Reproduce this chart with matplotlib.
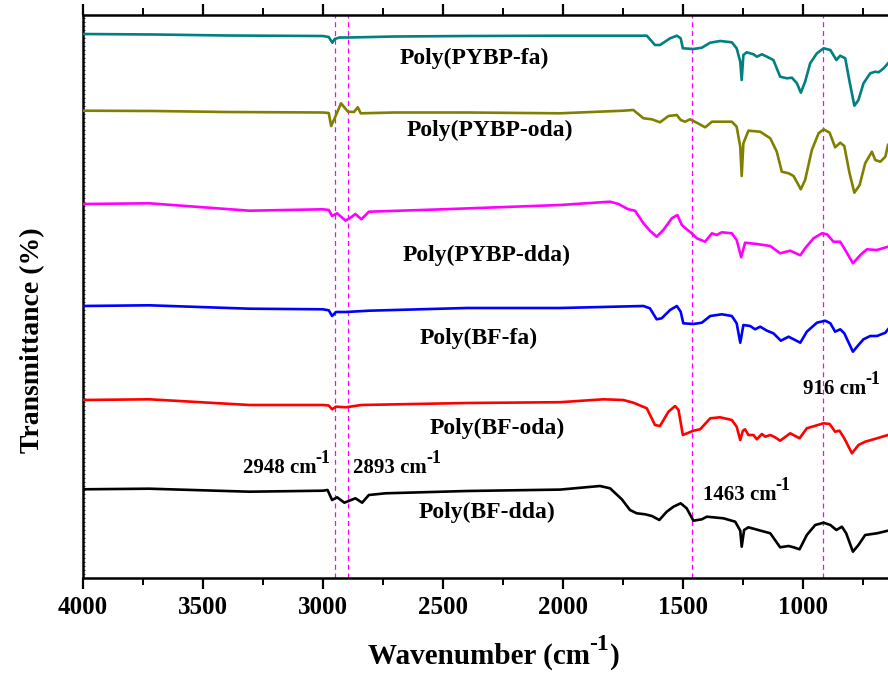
import matplotlib
matplotlib.use("Agg")
import matplotlib.pyplot as plt
from matplotlib.ticker import MultipleLocator

plt.rcParams['font.family'] = ['Liberation Serif', 'DejaVu Serif']
plt.rcParams['font.weight'] = 'bold'

# ---- data (wavenumber cm-1, offset transmittance a.u.) ----
wn_pybp_fa = [4000, 3700, 3400, 3000, 2975, 2960, 2950, 2930, 2893, 2700,
              2400, 2012, 1651, 1617, 1596, 1554, 1526, 1510, 1501, 1457,
              1422, 1387, 1346, 1297, 1277, 1262, 1256, 1249, 1235, 1207,
              1193, 1172, 1151, 1124, 1096, 1068, 1047, 1026, 1010, 992,
              971, 943, 915, 887, 862, 846, 825, 807, 787, 770,
              749, 721, 700, 686, 665, 647]
t_pybp_fa = [544, 543.5, 542.5, 542, 541, 535.3, 539, 540.5, 540.5, 541.5,
             542, 542.3, 542.3, 533, 533, 539.7, 542.3, 539.7, 529.7, 529,
             530.3, 535.3, 537, 535.7, 529.7, 516.3, 498, 523, 525.7, 523.7,
             521.3, 523.7, 521.3, 518, 501.3, 499.7, 500.3, 494.7, 485.3, 496.3,
             514.7, 524.7, 529.7, 528, 518, 522.3, 519.7, 496.3, 472.3, 478,
             494.7, 504.7, 506.3, 505.7, 509.7, 514.7]

wn_pybp_oda = [4000, 3700, 3400, 3000, 2975, 2965, 2950, 2924, 2895, 2870,
               2854, 2842, 2700, 2400, 2012, 1749, 1707, 1665, 1630, 1596,
               1561, 1526, 1510, 1492, 1471, 1443, 1408, 1380, 1332, 1297,
               1277, 1262, 1256, 1249, 1228, 1179, 1137, 1110, 1089, 1061,
               1040, 1010, 992, 964, 936, 915, 890, 867, 846, 829,
               807, 787, 765, 742, 714, 700, 679, 658, 647]
t_pybp_oda = [467.3, 467, 466, 465.5, 465, 452, 460, 474.7, 466.3, 466,
              470.7, 464.7, 465.5, 465.5, 464.7, 467.3, 468, 459.7, 458.7, 455.7,
              462, 463, 458, 456.3, 458.7, 455.3, 450.7, 456.3, 456.3, 456.3,
              451.3, 431.3, 402, 434.7, 447.3, 446.3, 439.7, 426.3, 406.3, 404.7,
              402, 388.7, 398, 428, 444.7, 448.7, 445.3, 430.7, 435.3, 432,
              404.7, 385.3, 393, 414.7, 426.3, 418, 416.3, 421.3, 433]

wn_pybp_dda = [4000, 3722, 3305, 3000, 2975, 2961, 2940, 2905, 2880, 2864,
               2839, 2808, 2500, 2012, 1804, 1769, 1728, 1700, 1665, 1638,
               1610, 1582, 1547, 1524, 1505, 1485, 1464, 1443, 1408, 1380,
               1360, 1339, 1297, 1277, 1258, 1242, 1193, 1137, 1096, 1054,
               1012, 992, 957, 922, 901, 874, 846, 825, 793, 762,
               735, 693, 647]
t_pybp_dda = [374, 374.7, 367.3, 368.7, 368, 362, 364.7, 357.3, 361, 364,
              358.7, 366.3, 368.7, 373, 376.3, 374, 368.7, 367.3, 354.7, 347.3,
              341.3, 348, 359.7, 363, 353, 348.7, 344.7, 339.7, 336.3, 344.7,
              343, 345.7, 344.7, 338, 320.7, 335.3, 334, 332, 324.7, 327.3,
              322.7, 329.7, 339.7, 344.7, 343.7, 336.3, 336.3, 328, 314.7, 323,
              328.7, 328, 331.3]

wn_bf_fa = [4000, 3722, 3305, 3000, 2975, 2961, 2945, 2903, 2808, 2400,
            2012, 1665, 1638, 1610, 1589, 1554, 1526, 1510, 1499, 1457,
            1422, 1387, 1339, 1297, 1277, 1262, 1249, 1221, 1200, 1179,
            1151, 1124, 1093, 1061, 1012, 985, 943, 908, 887, 867,
            846, 829, 793, 770, 749, 721, 693, 658, 647]
t_bf_fa = [272, 272.7, 269.3, 268.7, 267.7, 262, 266, 266, 267.3, 270,
           270, 272, 269.7, 258.7, 259.7, 268, 272, 266.3, 254.7, 254,
           255.3, 262, 263.7, 262, 254.7, 235.3, 253, 252, 248.7, 251.3,
           247.3, 244.7, 237.3, 241.3, 235.3, 246.3, 255.3, 257.3, 254.7, 246.3,
           248.7, 244.7, 226.3, 233, 238.7, 242, 242, 245.3, 248.7]

wn_bf_oda = [4000, 3722, 3305, 3000, 2975, 2961, 2945, 2903, 2840, 2400,
             2012, 1832, 1749, 1707, 1651, 1617, 1596, 1561, 1533, 1519,
             1501, 1457, 1429, 1387, 1346, 1297, 1277, 1262, 1251, 1242,
             1228, 1207, 1193, 1172, 1158, 1137, 1117, 1096, 1054, 1015,
             985, 915, 890, 867, 849, 829, 797, 770, 742, 707,
             647]
t_bf_oda = [178, 178.7, 173, 173, 172.5, 168.7, 171.3, 170.7, 173, 175,
            175.8, 178.7, 178, 175.3, 169.7, 153, 152, 166.3, 172, 168,
            143, 147.3, 148.7, 159.7, 160.7, 158, 151.3, 138, 147.3, 148.7,
            143, 143, 138.7, 144, 141.3, 143, 140.7, 137.3, 144.7, 139.7,
            149.7, 154.7, 154, 146.3, 147.3, 139.7, 124.7, 133, 136.3, 138.7,
            143]

wn_bf_dda = [4000, 3722, 3305, 3000, 2980, 2961, 2940, 2910, 2864, 2836,
             2808, 2739, 2400, 2012, 1846, 1804, 1755, 1721, 1693, 1658,
             1630, 1599, 1568, 1540, 1510, 1485, 1457, 1422, 1401, 1332,
             1283, 1262, 1256, 1246, 1228, 1137, 1096, 1061, 1040, 1015,
             985, 950, 915, 887, 862, 839, 821, 793, 770, 742,
             693, 647]
t_bf_dda = [88.7, 89.3, 86.3, 87.3, 88, 78, 80.7, 75.3, 79.7, 75.3,
            83, 84.7, 87, 88.4, 92, 89.7, 78.7, 68, 64.7, 63.7,
            62, 58, 66.3, 71.3, 74.7, 69.7, 57.3, 58.7, 61.3, 59.7,
            56.3, 47.3, 31.3, 48, 50.7, 44.7, 30.7, 32, 30.7, 28.7,
            43, 53, 55.3, 53, 48, 51.3, 44.7, 26.3, 33, 43,
            44.7, 47.3]

series_names = ['Poly(PYBP-fa)', 'Poly(PYBP-oda)', 'Poly(PYBP-dda)',
                'Poly(BF-fa)', 'Poly(BF-oda)', 'Poly(BF-dda)']
series_wn = [wn_pybp_fa, wn_pybp_oda, wn_pybp_dda, wn_bf_fa, wn_bf_oda, wn_bf_dda]
series_t = [t_pybp_fa, t_pybp_oda, t_pybp_dda, t_bf_fa, t_bf_oda, t_bf_dda]
series_colors = ['#008080', '#808000', '#FF00FF', '#0000FF', '#FF0000', '#000000']

# label anchor (wavenumber, transmittance)
label_pos = [(2368, 520), (2303, 448), (2316, 323), (2349, 240), (2274, 150), (2316, 66)]

marker_lines = [2948, 2893, 1463, 916]
marker_texts = ['2948 cm', '2893 cm', '1463 cm', '916 cm']
marker_text_pos = [(3331, 105), (2873, 105), (1417, 78), (1000, 184)]

# ---- figure ----
W, H = 888, 673
fig = plt.figure(figsize=(W / 100, H / 100), dpi=100)
ax = fig.add_axes([82.5 / W, 95 / H, 805.5 / W, 563 / H])
ax.set_xlim(4000, 647)
ax.set_ylim(0, 563)

for wn, t, c in zip(series_wn, series_t, series_colors):
    ax.plot(wn, t, color=c, lw=1.9, solid_joinstyle='round', zorder=3)

for v in marker_lines:
    ax.axvline(v, color='#FF00FF', lw=0.9, ls=(0, (4, 3)), zorder=2)

for name, (x, y) in zip(series_names, label_pos):
    ax.text(x, y, name, ha='center', va='center', fontsize=17, fontweight='bold')

fig.canvas.draw()
renderer = fig.canvas.get_renderer()


def sup_text(x, y, main, sup, size, sup_size, rise, transform):
    t = ax.text(x, y, main, ha='left', va='baseline', fontsize=size,
                fontweight='bold', transform=transform)
    bb = t.get_window_extent(renderer=renderer)
    xd, yd = transform.transform((x, y))
    fig.text((bb.x1 - 1) / W, (yd + rise) / H, sup, ha='left', va='baseline',
             fontsize=sup_size, fontweight='bold')


for txt, (x, y) in zip(marker_texts, marker_text_pos):
    sup_text(x, y, txt, '-1', 15, 13, 10, ax.transData)

ax.xaxis.set_major_locator(MultipleLocator(500))
ax.xaxis.set_minor_locator(MultipleLocator(250))
ax.tick_params(axis='x', which='major', direction='out', length=8, width=1.6,
               labelsize=18, pad=5, top=True)
ax.tick_params(axis='x', which='minor', direction='out', length=5, width=1.4, top=True)
ax.tick_params(axis='x', which='both', labeltop=False)
ax.set_yticks([])
ax.yaxis.set_minor_locator(MultipleLocator(4))
ax.tick_params(axis='y', which='minor', direction='in', length=1.5, width=0.6, left=True)
ax.tick_params(axis='y', which='minor', labelleft=False)

for s in ['left', 'bottom', 'top']:
    ax.spines[s].set_linewidth(1.8)
ax.spines['right'].set_visible(False)

fig.text(33 / W, (H - 340) / H, 'Transmittance (%)', rotation=90, ha='center',
         va='center', fontsize=20, fontweight='bold')

# x label with separate superscript
xl = fig.text(368 / W, (H - 664) / H, 'Wavenumber (cm', ha='left',
              va='baseline', fontsize=21, fontweight='bold')
bb = xl.get_window_extent(renderer=renderer)
sp = fig.text((bb.x1 - 1) / W, (H - 664 + 14) / H, '-1', ha='left',
              va='baseline', fontsize=17, fontweight='bold')
bb2 = sp.get_window_extent(renderer=renderer)
fig.text((bb2.x1 + 1) / W, (H - 664) / H, ')', ha='left',
         va='baseline', fontsize=21, fontweight='bold')

fig.savefig('out.png', dpi=100)
